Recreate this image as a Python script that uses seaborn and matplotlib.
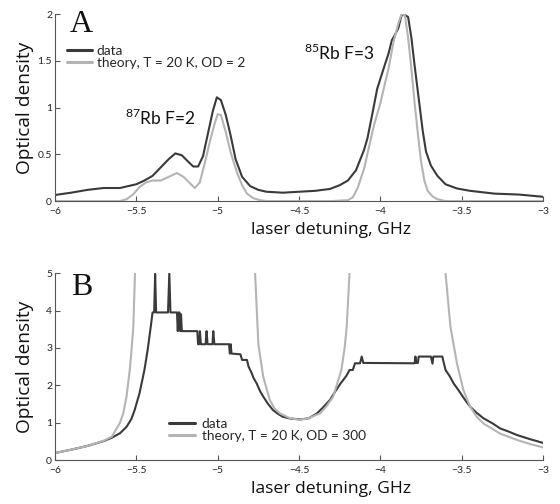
import numpy as np
import pandas as pd
import matplotlib
matplotlib.use("Agg")
import matplotlib.pyplot as plt
from matplotlib import font_manager
import seaborn as sns

# ---------------- data ----------------
# Panel A (OD = 2)
a_data_x = [-6.0, -5.9, -5.8, -5.7, -5.6, -5.5, -5.45, -5.4, -5.35, -5.3, -5.26, -5.22, -5.18,
            -5.15, -5.12, -5.09, -5.06, -5.03, -5.005, -4.98, -4.95, -4.92, -4.89, -4.85, -4.8,
            -4.75, -4.7, -4.6, -4.5, -4.4, -4.31, -4.25, -4.2, -4.15, -4.1, -4.08, -4.05, -4.02,
            -3.98, -3.95, -3.93, -3.91, -3.89, -3.87, -3.85, -3.83, -3.81, -3.79, -3.76, -3.74,
            -3.72, -3.69, -3.65, -3.6, -3.53, -3.45, -3.3, -3.15, -3.0]
a_data_y = [0.065, 0.09, 0.12, 0.14, 0.14, 0.18, 0.22, 0.27, 0.36, 0.45, 0.51, 0.49, 0.42,
            0.37, 0.37, 0.48, 0.72, 0.96, 1.11, 1.08, 0.92, 0.70, 0.45, 0.26, 0.16,
            0.12, 0.10, 0.09, 0.10, 0.11, 0.13, 0.17, 0.22, 0.33, 0.55, 0.67, 0.93, 1.2,
            1.42, 1.58, 1.72, 1.78, 1.85, 1.99, 1.99, 1.97, 1.75, 1.45, 1.03, 0.75,
            0.53, 0.38, 0.27, 0.18, 0.135, 0.11, 0.08, 0.07, 0.046]

a_theo_x = [-6.0, -5.6, -5.56, -5.52, -5.48, -5.44, -5.40, -5.35, -5.30, -5.25, -5.21, -5.17,
            -5.14, -5.11, -5.08, -5.05, -5.02, -5.0, -4.98, -4.95, -4.92, -4.88, -4.85, -4.82,
            -4.78, -4.74, -4.7, -4.3, -4.2, -4.17, -4.14, -4.1, -4.07, -4.04, -4.0, -3.98,
            -3.95, -3.92, -3.89, -3.87, -3.85, -3.83, -3.81, -3.79, -3.77, -3.75, -3.73,
            -3.71, -3.68, -3.65, -3.6, -3.0]
a_theo_y = [0.0, 0.0, 0.02, 0.07, 0.15, 0.20, 0.22, 0.22, 0.26, 0.30, 0.26, 0.19,
            0.14, 0.20, 0.40, 0.62, 0.82, 0.93, 0.92, 0.74, 0.52, 0.30, 0.17, 0.08,
            0.03, 0.01, 0.0, 0.0, 0.01, 0.04, 0.14, 0.35, 0.58, 0.81, 1.05, 1.2,
            1.42, 1.70, 1.90, 2.0, 1.99, 1.75, 1.42, 1.05, 0.72, 0.42, 0.22,
            0.11, 0.05, 0.02, 0.0, 0.0]

# Panel B (OD = 300)
b_data_x = [-6.0, -5.9, -5.8, -5.7, -5.65, -5.6, -5.56, -5.53, -5.51, -5.48, -5.45, -5.43,
            -5.41, -5.40, -5.39, -5.384, -5.378, -5.305, -5.297, -5.29, -5.25, -5.245,
            -5.24, -5.235, -5.23, -5.225, -5.22, -5.125, -5.12, -5.113, -5.109, -5.103,
            -5.074, -5.068, -5.062, -5.032, -5.027, -5.02, -4.93, -4.925, -4.92, -4.915,
            -4.86, -4.85, -4.82, -4.81, -4.79, -4.78, -4.76, -4.74, -4.72, -4.69, -4.66,
            -4.63, -4.6, -4.55, -4.49, -4.44, -4.39, -4.35, -4.31, -4.28, -4.245, -4.21,
            -4.19, -4.17, -4.156, -4.125, -4.115, -4.105, -3.79, -3.785, -3.78, -3.77,
            -3.765, -3.69, -3.68, -3.675, -3.62, -3.60, -3.575, -3.55, -3.525, -3.50,
            -3.475, -3.449, -3.41, -3.367, -3.31, -3.265, -3.21, -3.16, -3.08, -3.0]
b_data_y = [0.19, 0.28, 0.38, 0.51, 0.6, 0.72, 0.89, 1.1, 1.34, 1.79, 2.41, 2.95,
            3.6, 3.95, 3.95, 4.98, 3.95, 3.95, 5.0, 3.95, 3.95, 3.45,
            3.95, 3.95, 3.45, 3.9, 3.45, 3.45, 3.1, 3.1, 3.45, 3.1,
            3.1, 3.45, 3.1, 3.1, 3.45, 3.1, 3.1, 2.85, 3.1, 2.85,
            2.83, 2.68, 2.68, 2.5, 2.32, 2.2, 2.05, 1.85, 1.70, 1.5, 1.34,
            1.24, 1.16, 1.11, 1.09, 1.12, 1.25, 1.42, 1.61, 1.82, 2.05, 2.25,
            2.41, 2.41, 2.59, 2.59, 2.77, 2.6, 2.59, 2.77, 2.6, 2.6,
            2.77, 2.77, 2.58, 2.77, 2.77, 2.41, 2.25, 2.05, 1.9, 1.74,
            1.58, 1.43, 1.27, 1.12, 0.98, 0.85, 0.76, 0.67, 0.56, 0.46]

# theory for panel B diverges -> three separate branches (clipped at the top)
b_theo_seg = [1] * 14 + [2] * 19 + [3] * 14
b_theo_x = [-6.0, -5.9, -5.8, -5.7, -5.65, -5.62, -5.6, -5.58, -5.56, -5.54, -5.53, -5.518,
            -5.508, -5.503,
            -4.775, -4.77, -4.75, -4.72, -4.68, -4.65, -4.617, -4.56, -4.5, -4.44, -4.4,
            -4.37, -4.33, -4.29, -4.24, -4.22, -4.207, -4.19, -4.185,
            -3.605, -3.60, -3.57, -3.53, -3.49, -3.449, -3.41, -3.367, -3.31, -3.265,
            -3.21, -3.16, -3.08, -3.0]
b_theo_y = [0.19, 0.28, 0.38, 0.52, 0.63, 0.85, 1.0, 1.25, 1.7, 2.41, 2.9, 3.57,
            4.98, 5.5,
            5.5, 5.0, 3.1, 2.23, 1.61, 1.38, 1.25, 1.13, 1.08, 1.12, 1.2,
            1.25, 1.45, 1.70, 2.41, 3.0, 3.57, 5.0, 5.5,
            5.5, 5.0, 3.57, 2.59, 1.87, 1.43, 1.17, 0.98, 0.83, 0.71,
            0.62, 0.54, 0.43, 0.34]

x_ticks = [-6, -5.5, -5, -4.5, -4, -3.5, -3]
x_tick_labels = ["\u22126", "\u22125.5", "\u22125", "\u22124.5", "\u22124", "\u22123.5", "\u22123"]
a_y_ticks = [0, 0.5, 1, 1.5, 2]
a_y_tick_labels = ["0", "0.5", "1", "1.5", "2"]
b_y_ticks = [0, 1, 2, 3, 4, 5]
b_y_tick_labels = ["0", "1", "2", "3", "4", "5"]

label_data = "data"
label_theo_a = "theory, T = 20 K, OD = 2"
label_theo_b = "theory, T = 20 K, OD = 300"

# ---------------- style ----------------
sns.set_theme(style="white")
plt.rcParams["font.family"] = ["Lato", "DejaVu Sans"]
plt.rcParams["mathtext.fontset"] = "custom"
plt.rcParams["mathtext.rm"] = "Lato"

# narrow font for the legend (MATLAB-style), if installed
try:
    font_manager.findfont(font_manager.FontProperties(family="Liberation Sans Narrow"),
                          fallback_to_default=False)
    LEG_FAMILY, LEG_SIZE = "Liberation Sans Narrow", 11.6
except Exception:
    LEG_FAMILY, LEG_SIZE = "Lato", 9.8

DARK = "#3a3a3a"
LIGHT = "#b4b4b4"

fig = plt.figure(figsize=(5.6, 5.04), dpi=100)
axA = fig.add_axes([0.098, 0.601, 0.872, 0.371])
axB = fig.add_axes([0.098, 0.087, 0.872, 0.371])


def make_df(dx, dy, tx, ty, tlabel, tseg=None):
    d1 = pd.DataFrame({"x": dx, "y": dy, "series": label_data, "seg": 0})
    if tseg is None:
        tseg = [1] * len(tx)
    d2 = pd.DataFrame({"x": tx, "y": ty, "series": tlabel, "seg": tseg})
    return pd.concat([d1, d2], ignore_index=True)


def style_axes(ax, yticks, ylabels, ylim):
    ax.set_xlim(-6, -3)
    ax.set_ylim(*ylim)
    ax.set_xticks(x_ticks)
    ax.set_xticklabels(x_tick_labels)
    ax.set_yticks(yticks)
    ax.set_yticklabels(ylabels)
    for s in ["top", "right"]:
        ax.spines[s].set_visible(False)
    for s in ["left", "bottom"]:
        ax.spines[s].set_color("#555555")
        ax.spines[s].set_linewidth(0.8)
    ax.tick_params(direction="in", length=3.5, width=0.8, color="#555555",
                   labelsize=7.5, labelcolor="#222222", bottom=True, left=True)
    ax.tick_params(axis="x", pad=4)
    ax.tick_params(axis="y", pad=2)
    ax.set_xlabel("laser detuning, GHz", fontsize=12.6, family="Open Sans", color="#111111")
    ax.set_ylabel("Optical density", fontsize=13.8, family="Open Sans", color="#111111")
    ax.xaxis.set_label_coords(0.566, -0.112)
    ax.yaxis.set_label_coords(-0.043, 0.5)


def make_legend(ax, anchor, textpad):
    leg = ax.legend(loc="center left", bbox_to_anchor=anchor, frameon=False,
                    prop={"family": LEG_FAMILY, "size": LEG_SIZE},
                    handlelength=1.9, handletextpad=textpad, labelspacing=0.0,
                    borderaxespad=0, borderpad=0)
    for ln in leg.get_lines():
        ln.set_linewidth(2.2)
    return leg


# Panel A
dfA = make_df(a_data_x, a_data_y, a_theo_x, a_theo_y, label_theo_a)
sns.lineplot(data=dfA, x="x", y="y", hue="series", units="seg", estimator=None, sort=False,
             palette={label_data: DARK, label_theo_a: LIGHT}, linewidth=1.5, ax=axA)
style_axes(axA, a_y_ticks, a_y_tick_labels, (0, 2))
make_legend(axA, (0.024, 0.770), 0.32)
axA.text(0.031, 1.02, "A", transform=axA.transAxes, fontsize=23, family="Liberation Serif",
         va="top", ha="left", color="#111111")
axA.text(-5.57, 0.81, r"$^{87}$Rb F=2", fontsize=12.5, color="#111111", va="baseline")
axA.text(-4.47, 1.51, r"$^{85}$Rb F=3", fontsize=12.5, color="#111111", va="baseline")

# Panel B
dfB = make_df(b_data_x, b_data_y, b_theo_x, b_theo_y, label_theo_b, b_theo_seg)
sns.lineplot(data=dfB, x="x", y="y", hue="series", units="seg", estimator=None, sort=False,
             palette={label_data: DARK, label_theo_b: LIGHT}, linewidth=1.5, ax=axB)
style_axes(axB, b_y_ticks, b_y_tick_labels, (0, 5))
make_legend(axB, (0.234, 0.160), 0.48)
axB.text(0.034, 1.0, "B", transform=axB.transAxes, fontsize=23, family="Liberation Serif",
         va="top", ha="left", color="#111111")

fig.savefig("out.png", dpi=100)
